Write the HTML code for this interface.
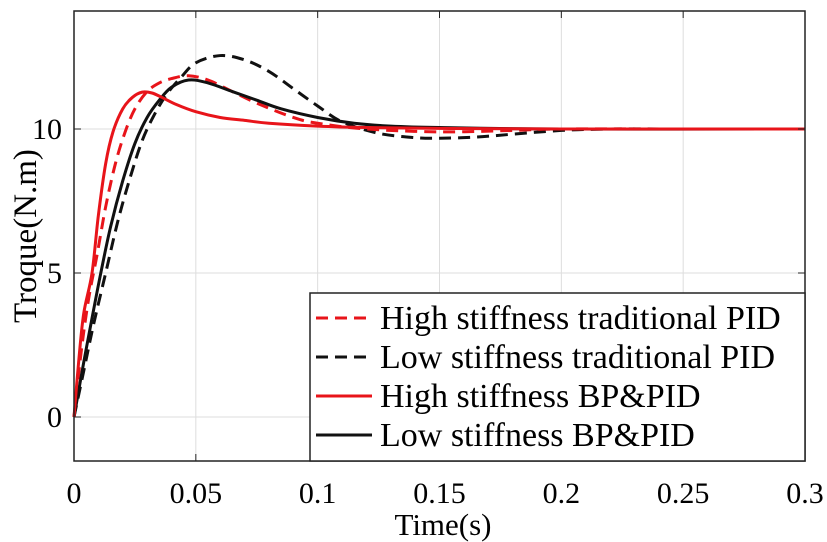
<!DOCTYPE html>
<html><head><meta charset="utf-8">
<style>
body{margin:0;background:#fff;}
svg{display:block;font-family:"Liberation Serif",serif;}
</style></head>
<body>
<svg id="chart" width="827" height="542">
<g id="grid"></g>
<g id="series"></g>
<g id="ticks"></g>
<rect x="74" y="11" width="731" height="450" fill="none" stroke="#222" stroke-width="1.5"/>
<text x="443" y="535" font-size="31" text-anchor="middle">Time(s)</text>
<text transform="translate(36,236) rotate(-90)" font-size="33" text-anchor="middle">Troque(N.m)</text>
<g id="legend"></g>
</svg>
<script>
const xTicks=[0,0.05,0.1,0.15,0.2,0.25,0.3];
const xTickLabels=["0","0.05","0.1","0.15","0.2","0.25","0.3"];
const yTicks=[0,5,10];
const yTickLabels=["0","5","10"];
const seriesNames=["High stiffness traditional PID","Low stiffness traditional PID","High stiffness BP&PID","Low stiffness BP&PID"];
const tA=[0,0.003,0.006,0.0094,0.013,0.017,0.021,0.025,0.03,0.035,0.04,0.047,0.055,0.065,0.075,0.09,0.1,0.12,0.15,0.18,0.2,0.25,0.3];
const highTradPID=[0,2.3,4.1,5.6,7.3,8.8,9.9,10.7,11.3,11.6,11.75,11.85,11.7,11.3,10.9,10.4,10.2,10.0,9.9,9.95,10.0,10.0,10.0];
const tB=[0,0.004,0.008,0.013,0.018,0.023,0.028,0.033,0.038,0.044,0.05,0.06,0.07,0.08,0.09,0.1,0.11,0.125,0.14,0.15,0.165,0.18,0.2,0.22,0.25,0.3];
const lowTradPID=[0,1.6,3.2,5.0,6.8,8.3,9.6,10.5,11.2,11.8,12.3,12.55,12.4,12.0,11.4,10.8,10.25,9.85,9.7,9.68,9.72,9.82,9.95,10.0,10.0,10.0];
const tC=[0,0.002,0.004,0.0074,0.01,0.013,0.016,0.02,0.024,0.028,0.032,0.036,0.042,0.05,0.06,0.07,0.08,0.1,0.12,0.15,0.2,0.3];
const highBPPID=[0,2.0,3.6,5.0,7.0,8.8,9.9,10.7,11.1,11.28,11.25,11.1,10.85,10.6,10.4,10.3,10.2,10.1,10.05,10.02,10.0,10.0];
const tD=[0,0.004,0.008,0.011,0.015,0.02,0.025,0.03,0.035,0.04,0.047,0.055,0.065,0.075,0.085,0.1,0.115,0.13,0.15,0.2,0.3];
const lowBPPID=[0,1.9,3.7,5.0,6.6,8.2,9.5,10.4,11.0,11.45,11.7,11.6,11.3,11.0,10.7,10.4,10.2,10.1,10.05,10.0,10.0];
const X0=74,X1=805,Y0=417,YPER=28.8;
const xs=v=>X0+(v/0.3)*(X1-X0);
const ys=v=>Y0-v*YPER;
const NS="http://www.w3.org/2000/svg";
function mk(tag,attrs,parent){const e=document.createElementNS(NS,tag);for(const k in attrs)e.setAttribute(k,attrs[k]);parent.appendChild(e);return e;}
const grid=document.getElementById('grid'),ticks=document.getElementById('ticks');
xTicks.forEach((v,i)=>{
 const gl=mk('line',{x1:xs(v),x2:xs(v),y1:11,y2:461,stroke:'#ddd','stroke-width':1},grid);
 
 
 const tk=mk('line',{x1:xs(v),x2:xs(v),y1:461,y2:454,stroke:'#222'},ticks);
 
 
 const tk2=mk('line',{x1:xs(v),x2:xs(v),y1:11,y2:18,stroke:'#222'},ticks);
 
 
 const tx=mk('text',{x:xs(v),y:503,'font-size':30,'text-anchor':'middle'},ticks);
 tx.textContent=xTickLabels[i];
 
 
});
yTicks.forEach((v,i)=>{
 const gl=mk('line',{x1:74,x2:805,y1:ys(v),y2:ys(v),stroke:'#ddd','stroke-width':1},grid);
 
 
 const tk=mk('line',{x1:74,x2:81,y1:ys(v),y2:ys(v),stroke:'#222'},ticks);
 
 
 const tk2=mk('line',{x1:798,x2:805,y1:ys(v),y2:ys(v),stroke:'#222'},ticks);
 
 
 const tx=mk('text',{x:62,y:ys(v)+10,'font-size':30,'text-anchor':'end'},ticks);
 tx.textContent=yTickLabels[i];
 
 
});
function pathD(t,y){
 const p=t.map((v,i)=>[xs(v),ys(y[i])]);
 let d='M'+p[0][0]+','+p[0][1];
 for(let i=0;i<p.length-1;i++){
  const p0=p[Math.max(0,i-1)],p1=p[i],p2=p[i+1],p3=p[Math.min(p.length-1,i+2)];
  const c1=[p1[0]+(p2[0]-p0[0])/6,p1[1]+(p2[1]-p0[1])/6];
  const c2=[p2[0]-(p3[0]-p1[0])/6,p2[1]-(p3[1]-p1[1])/6];
  d+=` C${c1[0]},${c1[1]} ${c2[0]},${c2[1]} ${p2[0]},${p2[1]}`;
 }
 return d;
}
const styles=[['#e8141a','12,7'],['#111','12,7'],['#e8141a',''],['#111','']];
const data=[[tA,highTradPID],[tB,lowTradPID],[tC,highBPPID],[tD,lowBPPID]];
const sg=document.getElementById('series');
const order=[1,0,3,2];
const names=['line-high-stiffness-traditional-pid','line-low-stiffness-traditional-pid','line-high-stiffness-bp-pid','line-low-stiffness-bp-pid'];
order.forEach(i=>{
 const a={d:pathD(data[i][0],data[i][1]),fill:'none',stroke:styles[i][0],'stroke-width':3};
 if(styles[i][1])a['stroke-dasharray']=styles[i][1];
 const el=mk('path',a,sg);
 
 
});
const lg=document.getElementById('legend');
const box=mk('rect',{x:310,y:293,width:495,height:168,fill:'#fff',stroke:'#222','stroke-width':1.5},lg);


const rowsY=[318,357,396,435];
seriesNames.forEach((n,i)=>{
 const a={x1:316,x2:372,y1:rowsY[i],y2:rowsY[i],stroke:styles[i][0],'stroke-width':3};
 if(styles[i][1])a['stroke-dasharray']='12,7';
 const ln=mk('line',a,lg);
 
 
 const tx=mk('text',{x:380,y:rowsY[i]+11,'font-size':34},lg);
 tx.textContent=n;
 
 
});
</script>
</body></html>
